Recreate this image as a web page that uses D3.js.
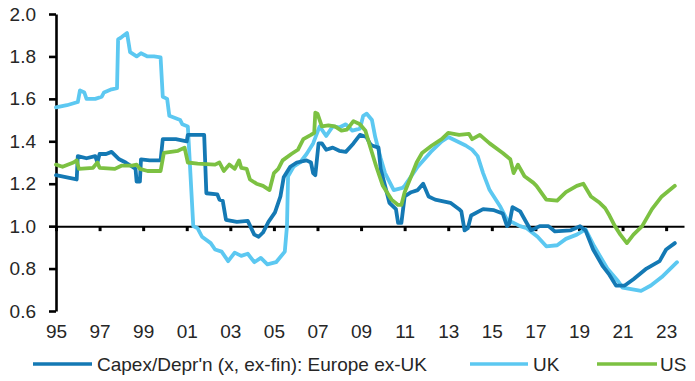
<!DOCTYPE html>
<html>
<head>
<meta charset="utf-8">
<script src="https://cdn.jsdelivr.net/npm/d3@7"></script>
<style>
  html, body { margin: 0; padding: 0; background: #fff; }
  svg { display: block; font-family: "Liberation Sans", Arial, sans-serif; }
</style>
</head>
<body>
<svg id="chart" width="695" height="381"></svg>
<script>
// ---- Data (decimal year, ratio) ----
const europeExUK = [
  [1995.0,1.24],[1995.5,1.23],[1995.95,1.22],[1996.0,1.33],[1996.4,1.32],[1996.8,1.33],[1996.9,1.30],
  [1997.0,1.34],[1997.3,1.34],[1997.55,1.35],[1997.9,1.315],[1998.2,1.30],[1998.5,1.28],[1998.65,1.27],
  [1998.7,1.21],[1998.85,1.21],[1998.9,1.315],[1999.3,1.31],[1999.8,1.31],[1999.9,1.41],[2000.5,1.41],
  [2001.0,1.40],[2001.05,1.43],[2001.8,1.43],[2001.9,1.155],[2002.4,1.15],[2002.5,1.125],[2002.65,1.12],
  [2002.8,1.03],[2003.3,1.02],[2003.8,1.025],[2004.1,0.96],[2004.3,0.95],[2004.5,0.97],[2004.75,1.02],
  [2005.05,1.065],[2005.3,1.14],[2005.45,1.23],[2005.75,1.28],[2006.05,1.30],[2006.5,1.31],[2006.7,1.30],
  [2006.8,1.25],[2006.9,1.24],[2007.05,1.39],[2007.2,1.39],[2007.4,1.36],[2007.7,1.37],[2008.0,1.355],
  [2008.3,1.35],[2008.65,1.39],[2008.95,1.43],[2009.25,1.42],[2009.4,1.39],[2009.5,1.38],[2009.8,1.37],
  [2009.9,1.27],[2010.1,1.19],[2010.3,1.11],[2010.6,1.08],[2010.7,1.015],[2010.85,1.015],[2011.0,1.14],
  [2011.3,1.16],[2011.6,1.17],[2011.85,1.20],[2012.1,1.14],[2012.4,1.125],[2013.1,1.11],[2013.5,1.08],
  [2013.6,1.07],[2013.75,0.98],[2013.9,0.99],[2014.05,1.05],[2014.6,1.08],[2015.1,1.075],[2015.5,1.06],
  [2015.7,1.0],[2015.8,1.01],[2015.95,1.09],[2016.3,1.07],[2016.6,1.015],[2016.8,0.98],[2017.2,1.0],
  [2017.6,1.0],[2017.9,0.975],[2018.6,0.98],[2019.05,1.0],[2019.3,0.98],[2019.65,0.89],[2020.1,0.81],
  [2020.4,0.77],[2020.7,0.72],[2021.1,0.72],[2021.5,0.75],[2022.1,0.80],[2022.7,0.835],[2023.0,0.89],
  [2023.4,0.92]
];
const uk = [
  [1995.0,1.56],[1995.5,1.57],[1996.0,1.585],[1996.1,1.64],[1996.3,1.63],[1996.4,1.60],[1996.8,1.60],
  [1997.1,1.61],[1997.2,1.63],[1997.55,1.645],[1997.8,1.65],[1997.85,1.88],[1998.0,1.89],[1998.26,1.91],
  [1998.4,1.82],[1998.7,1.80],[1998.9,1.815],[1999.2,1.80],[1999.5,1.80],[1999.8,1.795],[1999.9,1.61],
  [2000.1,1.60],[2000.2,1.52],[2000.7,1.50],[2000.8,1.48],[2001.05,1.47],[2001.3,1.0],[2001.5,0.99],
  [2001.7,0.95],[2002.1,0.92],[2002.3,0.89],[2002.6,0.88],[2002.9,0.835],[2003.2,0.875],[2003.5,0.86],
  [2003.8,0.87],[2004.1,0.83],[2004.4,0.85],[2004.7,0.82],[2005.1,0.83],[2005.5,0.88],[2005.6,1.0],
  [2005.65,1.235],[2005.9,1.28],[2006.2,1.30],[2006.5,1.34],[2006.8,1.39],[2007.1,1.47],[2007.4,1.425],
  [2007.7,1.47],[2008.0,1.465],[2008.3,1.48],[2008.6,1.45],[2008.95,1.46],[2009.1,1.52],[2009.26,1.53],
  [2009.5,1.50],[2009.65,1.42],[2009.9,1.32],[2010.1,1.25],[2010.5,1.17],[2010.9,1.18],[2011.0,1.19],
  [2011.6,1.28],[2012.2,1.35],[2012.7,1.40],[2013.0,1.42],[2013.4,1.40],[2013.8,1.38],[2014.1,1.36],
  [2014.35,1.33],[2014.6,1.25],[2014.9,1.17],[2015.4,1.09],[2015.7,1.03],[2016.3,1.0],[2016.6,0.99],
  [2017.1,0.95],[2017.5,0.905],[2018.0,0.91],[2018.4,0.94],[2018.9,0.96],[2019.3,0.985],[2019.7,0.905],
  [2020.3,0.80],[2020.8,0.74],[2021.0,0.71],[2021.85,0.695],[2022.3,0.72],[2022.8,0.76],[2023.5,0.83]
];
const us = [
  [1995.0,1.29],[1995.3,1.28],[1995.8,1.30],[1995.95,1.31],[1996.05,1.27],[1996.7,1.275],[1996.9,1.30],
  [1997.0,1.275],[1997.7,1.27],[1998.0,1.285],[1998.5,1.285],[1998.7,1.29],[1998.85,1.27],[1999.2,1.26],
  [1999.8,1.26],[1999.95,1.345],[2000.6,1.355],[2000.9,1.37],[2001.05,1.30],[2001.5,1.295],[2002.3,1.29],
  [2002.5,1.30],[2002.7,1.26],[2002.95,1.29],[2003.2,1.27],[2003.4,1.31],[2003.5,1.275],[2003.75,1.27],
  [2003.9,1.22],[2004.2,1.20],[2004.5,1.19],[2004.8,1.17],[2005.0,1.25],[2005.2,1.27],[2005.4,1.31],
  [2005.8,1.34],[2006.1,1.36],[2006.35,1.41],[2006.7,1.43],[2006.85,1.44],[2006.9,1.535],[2007.0,1.53],
  [2007.2,1.47],[2007.5,1.475],[2007.8,1.47],[2008.1,1.45],[2008.35,1.455],[2008.65,1.495],[2008.95,1.48],
  [2009.2,1.45],[2009.4,1.38],[2009.7,1.28],[2010.0,1.19],[2010.4,1.125],[2010.7,1.10],[2010.85,1.10],
  [2011.0,1.16],[2011.3,1.235],[2011.55,1.30],[2011.8,1.345],[2012.25,1.38],[2012.7,1.41],[2013.0,1.44],
  [2013.5,1.43],[2013.95,1.435],[2014.1,1.41],[2014.45,1.43],[2014.9,1.39],[2015.5,1.345],[2015.85,1.315],
  [2016.0,1.25],[2016.2,1.29],[2016.5,1.235],[2016.9,1.205],[2017.05,1.19],[2017.5,1.125],[2018.0,1.12],
  [2018.4,1.16],[2018.9,1.19],[2019.2,1.20],[2019.55,1.14],[2019.95,1.11],[2020.2,1.085],[2020.4,1.05],
  [2020.65,1.0],[2020.9,0.96],[2021.2,0.92],[2021.5,0.96],[2021.9,1.0],[2022.35,1.08],[2022.8,1.14],
  [2023.4,1.19]
];
const xTickYears = [1995,1997,1999,2001,2003,2005,2007,2009,2011,2013,2015,2017,2019,2021,2023];
const xTickLabels = ["95","97","99","01","03","05","07","09","11","13","15","17","19","21","23"];
const yTicks = [0.6,0.8,1.0,1.2,1.4,1.6,1.8,2.0];
const seriesNames = ["Capex/Depr'n (x, ex-fin): Europe ex-UK","UK","US"];
const seriesColors = ["#1479b4","#5cc8f1","#7cc142"];

// ---- Chart ----
const svg = d3.select("#chart");
const x = d3.scaleLinear().domain([1995, 2023.82]).range([56, 684]);
const y = d3.scaleLinear().domain([0.6, 2.0]).range([311, 14]);
const textColor = "#262626";
const fontSize = "19px";

// Y axis
const yAxis = svg.append("g").attr("transform", "translate(56,0)")
  .call(d3.axisLeft(y).tickValues(yTicks).tickFormat(d3.format(".1f")).tickSize(7).tickSizeOuter(0).tickPadding(13));
yAxis.select(".domain").attr("stroke", "#000").attr("stroke-width", 2.6);
yAxis.selectAll(".tick line").attr("stroke", "#000").attr("stroke-width", 2.6);
yAxis.selectAll(".tick text").attr("fill", textColor).style("font-size", fontSize);

// X axis along 1.0
const xAxis = svg.append("g").attr("transform", `translate(0,${y(1.0)})`)
  .call(d3.axisBottom(x).tickValues(xTickYears).tickFormat((d,i) => xTickLabels[i]).tickSize(5).tickSizeOuter(0).tickPadding(93));
xAxis.select(".domain").attr("stroke", "#000").attr("stroke-width", 2);
xAxis.selectAll(".tick line").attr("stroke", "#000").attr("stroke-width", 3);
xAxis.selectAll(".tick text").attr("fill", textColor).style("font-size", fontSize);

// Lines
const line = d3.line().x(d => x(d[0])).y(d => y(d[1])).curve(d3.curveLinear);
const allSeries = [europeExUK, uk, us];
const drawOrder = [1, 0, 2];
drawOrder.forEach(i => {
  svg.append("path").datum(allSeries[i])
    .attr("fill", "none").attr("stroke", seriesColors[i])
    .attr("stroke-width", 3.8).attr("stroke-linejoin", "round").attr("stroke-linecap", "round")
    .attr("d", line);
});

// Legend
const legendItems = [
  {x0: 33, x1: 92, tx: 97},
  {x0: 470, x1: 528, tx: 533},
  {x0: 597, x1: 657, tx: 660}
];
const ly = 364;
legendItems.forEach((it, i) => {
  svg.append("line").attr("x1", it.x0).attr("x2", it.x1).attr("y1", ly).attr("y2", ly)
    .attr("stroke", seriesColors[i]).attr("stroke-width", 3.6);
  svg.append("text").attr("x", it.tx).attr("y", ly).attr("dy", "0.36em")
    .attr("fill", textColor).style("font-size", fontSize).text(seriesNames[i]);
});
</script>
</body>
</html>
